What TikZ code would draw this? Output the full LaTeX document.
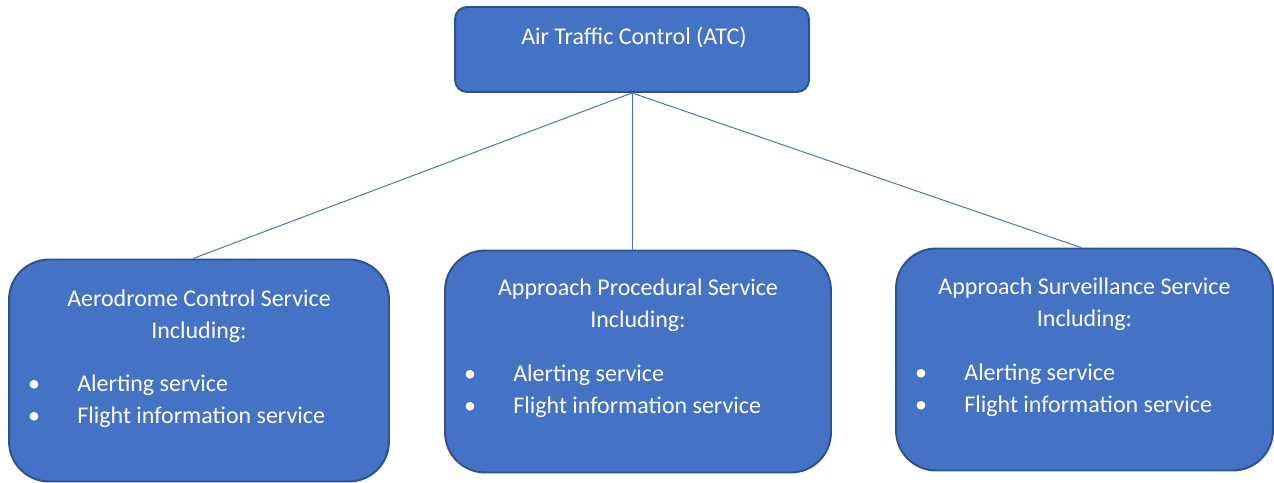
\documentclass[tikz,border=0pt]{standalone}
\usepackage{fontspec}
\setmainfont{Carlito}
\usetikzlibrary{positioning,calc}
\definecolor{atcblue}{HTML}{4472C4}
\definecolor{atcedge}{HTML}{2F528F}

\begin{document}
\begin{tikzpicture}[x=0.02cm, y=-0.02cm,
head/.style={rectangle,draw=atcedge,fill=atcblue,line width=1.1pt,rounded corners=0.24cm,
  minimum width=7.08cm,minimum height=1.7cm,inner sep=0pt},
service/.style={rectangle,draw=atcedge,fill=atcblue,line width=1.1pt,rounded corners=0.8cm,
  minimum height=4.44cm,inner sep=0pt},
txt/.style={text=white,font=\fontsize{13.65}{18}\selectfont,anchor=base,inner sep=0pt},
item/.style={txt,anchor=base west},
link/.style={draw=atcblue,line width=0.55pt}
]
\useasboundingbox (0,0) rectangle (1274,483);

%% boxes
\node[head] (atc) at (632,49.5) {};
\node[service, minimum width=7.6cm] (aero) at (199,370.5) {};
\node[service, minimum width=7.72cm] (appproc) at (638,361.5) {};
\node[service, minimum width=7.54cm] (appsurv) at (1084.5,359.5) {};

%% connectors
\draw[link] (atc.south) -- ([xshift=-0.12cm]aero.north);
\draw[link] (atc.south) -- (atc.south |- appproc.north);
\draw[link] (atc.south) -- ([xshift=-0.07cm]appsurv.north);

%% texts
\node[txt] (atctxt) at (634,45) {Air Traffic Control (ATC)};

\node[txt] (aero1) at (199,306) {Aerodrome Control Service};
\node[txt] (aero2) at (199,338) {Including:};
\node[txt] (aerob1) at (34,391) {\textbullet};
\node[item] (aeroi1) at (77,391) {Alerting service};
\node[txt] (aerob2) at (34,423) {\textbullet};
\node[item] (aeroi2) at (77,423) {Flight information service};

\node[txt] (appproc1) at (638,295) {Approach Procedural Service};
\node[txt] (appproc2) at (638,327) {Including:};
\node[txt] (appprocb1) at (470,381) {\textbullet};
\node[item] (appproci1) at (513,381) {Alerting service};
\node[txt] (appprocb2) at (470,413) {\textbullet};
\node[item] (appproci2) at (513,413) {Flight information service};

\node[txt] (appsurv1) at (1084.5,294) {Approach Surveillance Service};
\node[txt] (appsurv2) at (1084.5,326) {Including:};
\node[txt] (appsurvb1) at (921,380) {\textbullet};
\node[item] (appsurvi1) at (964,380) {Alerting service};
\node[txt] (appsurvb2) at (921,412) {\textbullet};
\node[item] (appsurvi2) at (964,412) {Flight information service};
\end{tikzpicture}
\end{document}
